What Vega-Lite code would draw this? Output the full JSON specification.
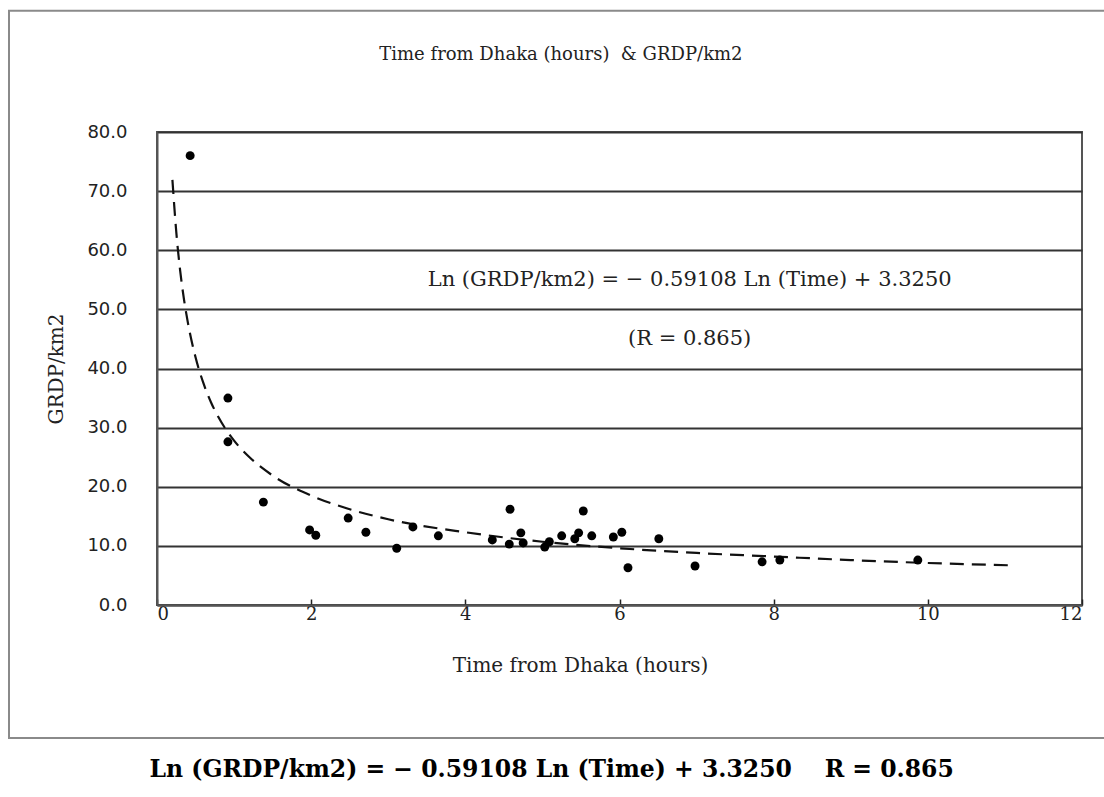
{
  "$schema": "https://vega.github.io/schema/vega-lite/v6.json",
  "width": 925,
  "height": 473,
  "autosize": {"type": "none"},
  "padding": {"left": 157, "top": 132, "right": 22, "bottom": 192},
  "background": "white",
  "title": {
    "text": "Time from Dhaka (hours)\u00a0\u00a0& GRDP/km2",
    "font": "DejaVu Serif",
    "fontSize": 18,
    "fontWeight": "normal",
    "color": "#222",
    "anchor": "middle",
    "frame": "bounds",
    "offset": -54
  },
  "datasets": {
    "frame": [
      {"x0": -1.92, "x1": 12.4, "y0": -22.5, "y1": 100.5}
    ],
    "points": [
      {"time": 0.43, "grdp": 76.0},
      {"time": 0.92, "grdp": 35.0},
      {"time": 0.92, "grdp": 27.6},
      {"time": 1.38, "grdp": 17.4},
      {"time": 1.98, "grdp": 12.7},
      {"time": 2.06, "grdp": 11.8},
      {"time": 2.48, "grdp": 14.7},
      {"time": 2.71, "grdp": 12.3},
      {"time": 3.11, "grdp": 9.6},
      {"time": 3.32, "grdp": 13.2},
      {"time": 3.65, "grdp": 11.7},
      {"time": 4.35, "grdp": 11.0},
      {"time": 4.58, "grdp": 16.2},
      {"time": 4.57, "grdp": 10.3},
      {"time": 4.72, "grdp": 12.2},
      {"time": 4.75, "grdp": 10.5},
      {"time": 5.03, "grdp": 9.8},
      {"time": 5.09, "grdp": 10.7},
      {"time": 5.25, "grdp": 11.7},
      {"time": 5.42, "grdp": 11.2},
      {"time": 5.47, "grdp": 12.2},
      {"time": 5.53, "grdp": 15.9},
      {"time": 5.64, "grdp": 11.7},
      {"time": 5.92, "grdp": 11.5},
      {"time": 6.03, "grdp": 12.3},
      {"time": 6.11, "grdp": 6.3},
      {"time": 6.51, "grdp": 11.2},
      {"time": 6.98, "grdp": 6.6},
      {"time": 7.85, "grdp": 7.3},
      {"time": 8.08, "grdp": 7.6},
      {"time": 9.87, "grdp": 7.6}
    ],
    "curve": [
      {"time": 0.2, "grdp": 71.9},
      {"time": 0.25, "grdp": 63.1},
      {"time": 0.3, "grdp": 56.6},
      {"time": 0.35, "grdp": 51.7},
      {"time": 0.4, "grdp": 47.8},
      {"time": 0.5, "grdp": 41.9},
      {"time": 0.6, "grdp": 37.6},
      {"time": 0.7, "grdp": 34.3},
      {"time": 0.8, "grdp": 31.7},
      {"time": 1.0, "grdp": 27.8},
      {"time": 1.2, "grdp": 25.0},
      {"time": 1.5, "grdp": 21.9},
      {"time": 2.0, "grdp": 18.5},
      {"time": 2.5, "grdp": 16.2},
      {"time": 3.0, "grdp": 14.5},
      {"time": 4.0, "grdp": 12.3},
      {"time": 5.0, "grdp": 10.7},
      {"time": 6.0, "grdp": 9.6},
      {"time": 7.0, "grdp": 8.8},
      {"time": 8.0, "grdp": 8.2},
      {"time": 9.0, "grdp": 7.6},
      {"time": 10.0, "grdp": 7.1},
      {"time": 11.1, "grdp": 6.7}
    ],
    "notes": [
      {"label": "Ln (GRDP/km2) = − 0.59108 Ln (Time) + 3.3250", "time": 6.91, "grdp": 55.0},
      {"label": "(R = 0.865)", "time": 6.91, "grdp": 45.0}
    ],
    "caption": [
      {"label": "Ln (GRDP/km2) = − 0.59108 Ln (Time) + 3.3250\u00a0\u00a0\u00a0\u00a0R = 0.865", "time": 5.12, "grdp": -27.9}
    ]
  },
  "layer": [
    {
      "data": {"name": "frame"},
      "mark": {"type": "rect", "filled": false, "stroke": "#8a8a8a", "strokeWidth": 2, "clip": false},
      "encoding": {
        "x": {"field": "x0", "type": "quantitative", "scale": {"domain": [0, 12], "nice": false}},
        "x2": {"field": "x1"},
        "y": {"field": "y0", "type": "quantitative", "scale": {"domain": [0, 80], "nice": false}},
        "y2": {"field": "y1"}
      }
    },
    {
      "data": {"name": "curve"},
      "mark": {"type": "line", "color": "#111", "strokeWidth": 2.2, "strokeDash": [14, 8], "interpolate": "monotone"},
      "encoding": {
        "x": {
          "field": "time", "type": "quantitative",
          "scale": {"domain": [0, 12], "nice": false},
          "axis": {
            "title": "Time from Dhaka (hours)",
            "values": [0, 2, 4, 6, 8, 10, 12],
            "format": "d",
            "grid": false,
            "ticks": true,
            "tickSize": -6,
            "tickColor": "#222",
            "tickWidth": 1.5,
            "labelPadding": 6,
            "labelFont": "DejaVu Serif",
            "titlePadding": 32,
            "titleFontSize": 20,
            "titleX": 423
          }
        },
        "y": {
          "field": "grdp", "type": "quantitative",
          "scale": {"domain": [0, 80], "nice": false},
          "axis": {
            "title": "GRDP/km2",
            "values": [0, 10, 20, 30, 40, 50, 60, 70, 80],
            "format": ".1f",
            "grid": true,
            "ticks": false,
            "labelPadding": 30,
            "labelFont": "DejaVu Sans",
            "labelFontSize": 18,
            "titlePadding": 20,
            "titleFontSize": 20
          }
        }
      }
    },
    {
      "data": {"name": "points"},
      "mark": {"type": "point", "filled": true, "color": "#000", "size": 80, "opacity": 1},
      "encoding": {
        "x": {"field": "time", "type": "quantitative"},
        "y": {"field": "grdp", "type": "quantitative"}
      }
    },
    {
      "data": {"name": "notes"},
      "mark": {"type": "text", "font": "DejaVu Serif", "fontSize": 21, "color": "#222", "align": "center", "baseline": "middle"},
      "encoding": {
        "x": {"field": "time", "type": "quantitative"},
        "y": {"field": "grdp", "type": "quantitative"},
        "text": {"field": "label"}
      }
    },
    {
      "data": {"name": "caption"},
      "mark": {"type": "text", "font": "DejaVu Serif", "fontSize": 23.5, "fontWeight": "bold", "color": "#000", "align": "center", "baseline": "middle", "clip": false},
      "encoding": {
        "x": {"field": "time", "type": "quantitative"},
        "y": {"field": "grdp", "type": "quantitative"},
        "text": {"field": "label"}
      }
    }
  ],
  "config": {
    "view": {"stroke": "#555", "strokeWidth": 2},
    "axis": {
      "labelFont": "DejaVu Serif",
      "labelFontSize": 18,
      "labelColor": "#222",
      "titleFont": "DejaVu Serif",
      "titleFontSize": 18,
      "titleFontWeight": "normal",
      "titleColor": "#222",
      "domainColor": "#555",
      "domainWidth": 2,
      "gridColor": "#333",
      "gridWidth": 1.8,
      "gridOpacity": 1
    }
  }
}
